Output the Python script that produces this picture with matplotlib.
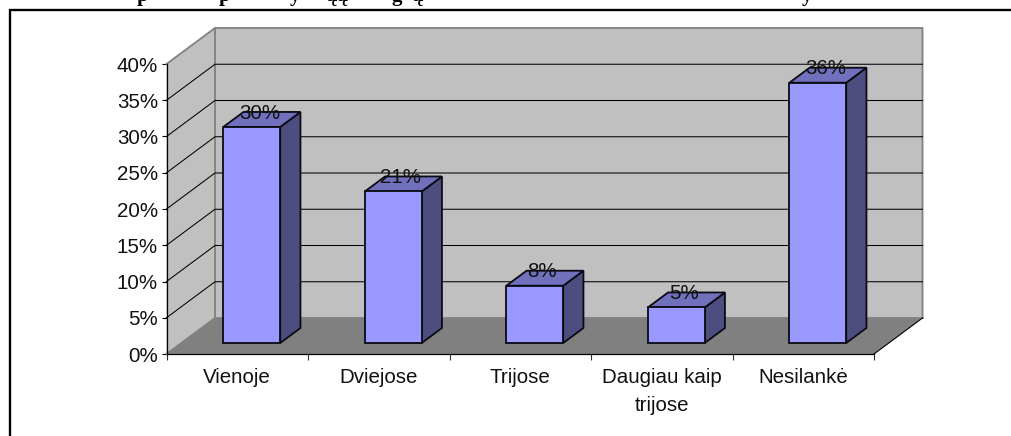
import matplotlib
matplotlib.use("Agg")
import matplotlib.pyplot as plt
from matplotlib.patches import Polygon

categories = ["Vienoje", "Dviejose", "Trijose", "Daugiau kaip\ntrijose", "Nesilankė"]
values = [29.8, 20.9, 7.9, 4.9, 35.9]
value_labels = ["30%", "21%", "8%", "5%", "36%"]
y_ticks = [0, 5, 10, 15, 20, 25, 30, 35, 40]
title_fragments = [("p", 143), ("p", 225), ("y", 295), ("ųų", 337), ("g", 397), ("ų", 418), ("y", 807)]

W, H = 1011, 436
L, R, T, B = 166.5, 874.0, 64.0, 354.0
DX_PX, DY_PX = 48.5, 36.0
FONT = 14.8

plt.rcParams["font.family"] = ["Liberation Sans", "DejaVu Sans"]
fig = plt.figure(figsize=(W / 100, H / 100), dpi=100, facecolor="white")

# page frame: left and top rules only
fig.add_artist(plt.Line2D([10 / W, 10 / W, 1], [0, 1 - 10 / H, 1 - 10 / H], color="black", lw=1.7,
                          solid_joinstyle="miter"))
for s, x in title_fragments:
    fig.text(x / W, 1 - 1.5 / H, s, family="Liberation Serif", weight="bold", fontsize=15,
             ha="center", va="baseline", color="black")

ax = fig.add_axes([L / W, 1 - B / H, (R - L) / W, (B - T) / H])
n = len(categories)
ymax = y_ticks[-1]
ax.set_xlim(0, n)
ax.set_ylim(0, ymax)
ax.patch.set_visible(False)

ux = (R - L) / n      # pixels per category
uy = (B - T) / ymax   # pixels per percent
DX, DY = DX_PX / ux, DY_PX / uy


def P(x, y, d=0.0):
    """Oblique projection of a point at depth fraction d (0 front, 1 back)."""
    return (x + DX * d, y + DY * d)


def poly(pts, fc, ec="none", lw=0.0, z=1):
    ax.add_patch(Polygon(pts, closed=True, fc=fc, ec=ec, lw=lw, zorder=z, clip_on=False,
                         joinstyle="miter"))


WALL, FLOOR, EDGE = "#C0C0C0", "#808080", "#808080"
# side wall, back wall, floor
poly([P(0, 0), P(0, 0, 1), P(0, ymax, 1), P(0, ymax)], WALL)
poly([P(0, 0, 1), P(n, 0, 1), P(n, ymax, 1), P(0, ymax, 1)], WALL)
poly([P(0, 0), P(n, 0), P(n, 0, 1), P(0, 0, 1)], FLOOR)

# wall borders
ax.plot(*zip(P(0, ymax), P(0, ymax, 1), P(n, ymax, 1), P(n, 0, 1)), color=EDGE, lw=1.3, zorder=2,
        clip_on=False, solid_joinstyle="miter")
ax.plot(*zip(P(0, 0), P(0, 0, 1), P(0, ymax, 1)), color=EDGE, lw=1.3, zorder=2, clip_on=False)
ax.plot(*zip(P(0, 0, 1), P(n, 0, 1)), color=EDGE, lw=1.3, zorder=2, clip_on=False)

# gridlines on the side and back walls
for t in y_ticks[1:-1]:
    ax.plot(*zip(P(0, t), P(0, t, 1), P(n, t, 1)), color="black", lw=0.75, zorder=3, clip_on=False)
ax.plot(*zip(P(n, 0), P(n, 0, 1)), color="black", lw=0.8, zorder=3, clip_on=False)

# bars
GAP = 0.297
BW = 0.402
D0, D1 = 11 / 36, 26 / 36
EC, ELW = "#0A0A14", 1.3
for i, (v, lab) in enumerate(zip(values, value_labels)):
    x0, x1 = i + GAP, i + GAP + BW
    poly([P(x1, 0, D0), P(x1, 0, D1), P(x1, v, D1), P(x1, v, D0)], "#4D4D80", EC, ELW, 5)
    poly([P(x0, v, D0), P(x1, v, D0), P(x1, v, D1), P(x0, v, D1)], "#7070BC", EC, ELW, 5)
    poly([P(x0, 0, D0), P(x1, 0, D0), P(x1, v, D0), P(x0, v, D0)], "#9999FF", EC, ELW, 6)
    cx, cy = P((x0 + x1) / 2, v, D0)
    ax.annotate(lab, (cx, cy), xytext=(5.5, 10), textcoords="offset points", ha="center", va="center",
                fontsize=FONT, color="#111111", zorder=8, annotation_clip=False)

# axes
for s in ("top", "right"):
    ax.spines[s].set_visible(False)
for s in ("left", "bottom"):
    ax.spines[s].set_color("black")
    ax.spines[s].set_linewidth(0.9)
    ax.spines[s].set_zorder(7)
ax.set_yticks(y_ticks)
ax.set_yticklabels([f"{t}%" for t in y_ticks], fontsize=FONT, color="#111111")
ax.set_xticks(range(n + 1))
ax.set_xticklabels([""] * (n + 1))
ax.set_xticks([i + 0.5 for i in range(n)], minor=True)
ax.set_xticklabels(categories, minor=True, fontsize=FONT, color="#111111", linespacing=1.62)
ax.tick_params(axis="y", length=3.6, width=0.8, pad=2.5)
ax.tick_params(axis="x", which="major", length=4.3, width=0.8, color="#333333")
ax.tick_params(axis="x", which="minor", length=0, pad=10)

fig.savefig("out.png", dpi=100, facecolor="white")
